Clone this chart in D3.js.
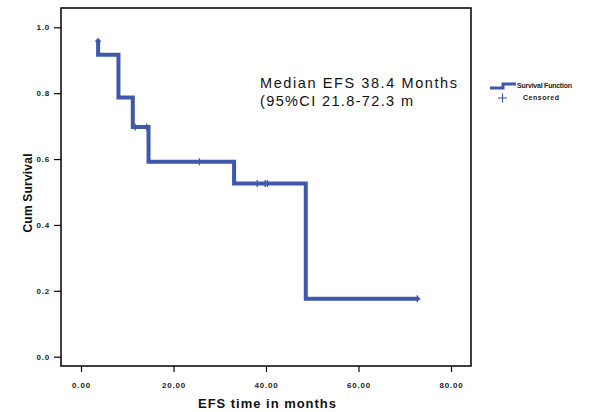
<!DOCTYPE html>
<html>
<head>
<meta charset="utf-8">
<script src="https://cdn.jsdelivr.net/npm/d3@7"></script>
<style>
  body { margin: 0; background: #fff; }
  svg { display: block; }
  .tick text { font-family: "Liberation Sans", Arial, sans-serif; font-weight: bold; font-size: 8px; letter-spacing: 0.8px; fill: #222; }
</style>
</head>
<body>
<script>
// Kaplan-Meier step points (time in months, cumulative survival)
const stepTimes = [3.7, 3.7, 8.1, 11.2, 14.6, 33.1, 48.6, 72.7];
const stepSurv  = [0.958, 0.917, 0.787, 0.697, 0.592, 0.526, 0.176, 0.176];
// censored observations
const censorTimes = [3.7, 11.7, 14.2, 25.6, 38.1, 39.8, 40.3, 72.7];
const censorSurv  = [0.958, 0.697, 0.697, 0.592, 0.526, 0.526, 0.526, 0.176];
const xTicks = [0, 20, 40, 60, 80];
const yTicks = [0, 0.2, 0.4, 0.6, 0.8, 1.0];
const noteLines = ["Median EFS 38.4 Months", "(95%CI 21.8-72.3 m"];
const legendLabels = ["Survival Function", "Censored"];

const W = 606, H = 412;
const margin = {top: 8, left: 61},
    width = 410, height = 358;
const blue = "#3f58ab";

const svg = d3.select("body").append("svg")
    .attr("width", W)
    .attr("height", H);

const g = svg.append("g")
    .attr("transform", "translate(" + margin.left + "," + margin.top + ")");

const x = d3.scaleLinear().domain([0, 80]).range([20, 390]);
const y = d3.scaleLinear().domain([0, 1]).range([348.7, 19.3]);

// axes (no domain line, frame drawn separately)
const xAxis = g.append("g")
    .attr("transform", "translate(0," + height + ")")
    .call(d3.axisBottom(x).tickValues(xTicks).tickFormat(d3.format(".2f")).tickSize(6).tickPadding(10));
xAxis.select(".domain").remove();

const yAxis = g.append("g")
    .call(d3.axisLeft(y).tickValues(yTicks).tickFormat(d3.format(".1f")).tickSize(7).tickPadding(4));
yAxis.select(".domain").remove();
g.selectAll(".tick line").attr("stroke", "#000").attr("stroke-width", 1.2);

// frame
g.append("rect")
    .attr("width", width)
    .attr("height", height)
    .attr("fill", "none")
    .attr("stroke", "#000")
    .attr("stroke-width", 1.5);

// survival curve
const pts = stepTimes.map((t, i) => [t, stepSurv[i]]);
const line = d3.line()
    .x(d => x(d[0]))
    .y(d => y(d[1]))
    .curve(d3.curveStepAfter);

g.append("path")
    .datum(pts)
    .attr("d", line)
    .attr("fill", "none")
    .attr("stroke", blue)
    .attr("stroke-width", 4)
    .attr("stroke-linejoin", "miter")
    .attr("stroke-linecap", "square");

// censor marks
const cens = censorTimes.map((t, i) => [t, censorSurv[i]]);
g.selectAll("path.censor")
    .data(cens)
    .enter().append("path")
    .attr("class", "censor")
    .attr("d", d => {
        const cx = x(d[0]), cy = y(d[1]);
        return "M" + (cx - 3) + "," + cy + "H" + (cx + 3) + "M" + cx + "," + (cy - 3.5) + "V" + (cy + 3.5);
    })
    .attr("stroke", blue)
    .attr("stroke-width", 1.3);

// axis titles
svg.append("text")
    .attr("x", 267)
    .attr("y", 408)
    .attr("text-anchor", "middle")
    .attr("textLength", 138)
    .style("font-family", "Liberation Sans, Arial, sans-serif")
    .style("font-weight", "bold")
    .style("font-size", "13px")
    .style("fill", "#111")
    .text("EFS time in months");

svg.append("text")
    .attr("transform", "translate(32,193) rotate(-90)")
    .attr("text-anchor", "middle")
    .attr("textLength", 79)
    .style("font-family", "Liberation Sans, Arial, sans-serif")
    .style("font-weight", "bold")
    .style("font-size", "12px")
    .style("fill", "#111")
    .text("Cum Survival");

// median annotation (spaced out like the original)
svg.selectAll("text.note")
    .data(noteLines)
    .enter().append("text")
    .attr("class", "note")
    .attr("x", 260)
    .attr("y", (d, i) => 88 + i * 17.7)
    .attr("textLength", (d, i) => i === 0 ? 197 : 153)
    .style("font-family", "Liberation Sans, Arial, sans-serif")
    .style("font-size", "14.5px")
    .style("fill", "#111")
    .text(d => d);

// legend
const lg = svg.append("g").attr("transform", "translate(490,0)");
lg.append("path")
    .attr("d", "M0,88H13V84H26")
    .attr("fill", "none")
    .attr("stroke", blue)
    .attr("stroke-width", 3);
lg.append("path")
    .attr("d", "M8,98H17M12.5,93.5V102.5")
    .attr("stroke", blue)
    .attr("stroke-width", 1.2);
lg.selectAll("text")
    .data(legendLabels)
    .enter().append("text")
    .attr("x", (d, i) => i === 0 ? 27 : 33)
    .attr("y", (d, i) => i === 0 ? 88 : 100)
    .attr("textLength", (d, i) => i === 0 ? 55 : 36)
    .style("font-family", "Liberation Sans, Arial, sans-serif")
    .style("font-weight", "bold")
    .style("font-size", "7px")
    .style("fill", "#222")
    .text(d => d);
</script>
</body>
</html>
